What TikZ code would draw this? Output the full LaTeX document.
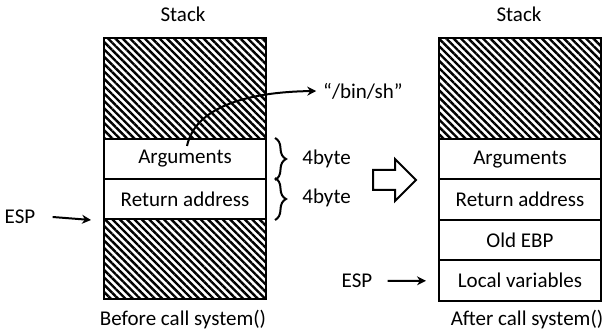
\documentclass[tikz,border=0pt]{standalone}
\usepackage{fontspec}
\setmainfont{Carlito}
\usetikzlibrary{patterns.meta,arrows.meta,decorations.pathreplacing}
\begin{document}
\begin{tikzpicture}[x=0.5pt,y=-0.5pt,
  font=\fontsize{10.5}{12.6}\selectfont,
  cell/.style={draw,line width=1pt,minimum width=81pt,minimum height=20pt,
    inner sep=0pt,anchor=north,fill=white},
  rcell/.style={cell,minimum height=20.25pt},
  hatched/.style={draw,line width=1pt,inner sep=0pt,anchor=north,minimum width=81pt,
    pattern={Lines[angle=-45,distance=2.6pt,line width=1.2pt]}},
  ptr/.style={line width=1pt,-{Stealth[length=4.5pt,width=4.5pt]}},
  txt/.style={inner sep=0pt},
  bracket/.style={line width=1pt,decorate,decoration={brace,amplitude=5.5pt}}]

\useasboundingbox (0,0) rectangle (603,335);

% stack before the call
\node[hatched,minimum height=50.5pt] (Ltop) at (185,37) {};
\node[cell] (Larg) at (185,138) {Arguments};
\node[cell] (Lret) at (185,178) {Return address};
\node[hatched,minimum height=40pt] (Lbot) at (185,218) {};
\node[txt] (Lhead) at (183,14) {Stack};
\node[txt] (Lfoot) at (183,320) {Before call system()};

% stack after the call
\node[hatched,minimum height=50.5pt] (Rtop) at (520,37) {};
\node[rcell] (Rarg) at (520,138) {Arguments};
\node[rcell] (Rret) at (520,178.5) {Return address};
\node[rcell] (Rebp) at (520,219) {Old EBP};
\node[rcell] (Rloc) at (520,259.5) {Local variables};
\node[txt] (Rhead) at (519,14) {Stack};
\node[txt] (Rfoot) at (527,320) {After call system()};

% stack pointers
\node[txt] (esp1) at (20,217) {ESP};
\node[txt] (esp2) at (357,281) {ESP};
\coordinate (esp1tip) at ([xshift=-6pt]Lret.south west);
\coordinate (esp2tip) at ([xshift=-6pt]Rloc.west);
\draw[ptr] ([xshift=8.5pt]esp1.east) -- (esp1tip);
\draw[ptr] ([xshift=7.5pt]esp2.east) -- (esp2tip);

% argument points to the shell string
\node[txt,outer sep=3.5pt] (bin) at (363,91) {“/bin/sh”};
\coordinate (argsrc) at ([shift={(2,8)}]Larg.north);
\draw[ptr] (argsrc) .. controls (195,108) and (245,92) .. (bin.west);

% sizes of the two slots
\draw[bracket] ([xshift=4pt]Larg.north east) -- ([xshift=4pt]Larg.south east);
\draw[bracket] ([xshift=4pt]Lret.north east) -- ([xshift=4pt]Lret.south east);
\node[txt,anchor=west] (sz1) at (302,159) {4byte};
\node[txt,anchor=west] (sz2) at (302,198) {4byte};

% hollow transition arrow
\draw[line width=1pt,line join=miter]
  (373,170) -- (395,170) -- (395,159) -- (416,180) -- (395,201) -- (395,190)
  -- (373,190) -- cycle;
\end{tikzpicture}
\end{document}
